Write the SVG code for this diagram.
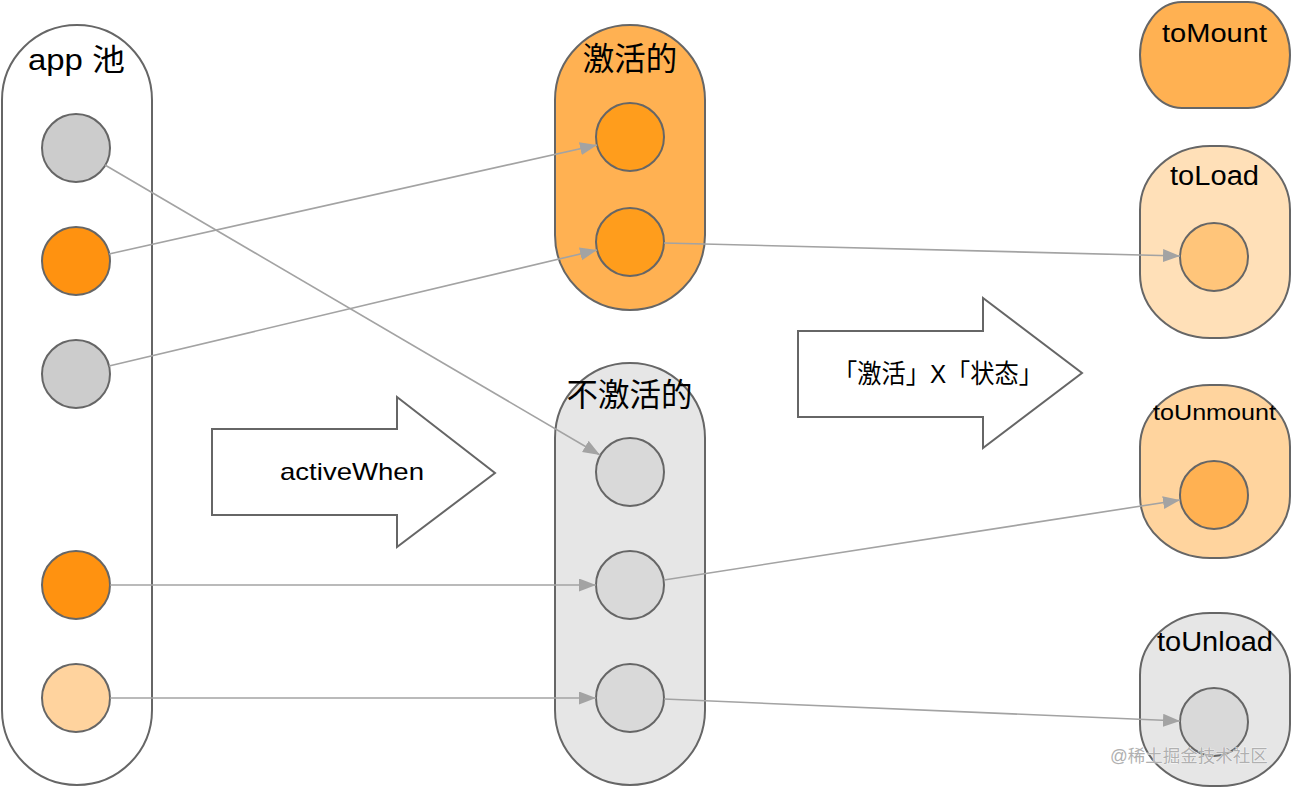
<svg xmlns="http://www.w3.org/2000/svg" width="1292" height="788" viewBox="0 0 1292 788">
<defs>
<style>
text{font-family:"Liberation Sans","Noto Sans CJK SC",sans-serif;fill:#000;text-anchor:middle}
.box{stroke:#666;stroke-width:2}
.c{stroke:#666;stroke-width:2}
.link{stroke:#A3A3A3;stroke-width:1.6;fill:none;marker-end:url(#ah)}
.big{fill:#fff;stroke:#666;stroke-width:2}
</style>
<marker id="ah" markerUnits="userSpaceOnUse" markerWidth="18" markerHeight="14" refX="17" refY="6.5" orient="auto">
<path d="M0,0 L17,6.5 L0,13 Z" fill="#A3A3A3"/>
</marker>
</defs>
<rect width="1292" height="788" fill="#fff"/>

<g id="app-pool">
<rect class="box" x="2" y="25" width="150" height="760" rx="75" ry="75" fill="#fff"/>
<text x="76.5" y="70" font-size="30" textLength="97" lengthAdjust="spacingAndGlyphs">app 池</text>
<circle class="c" cx="76" cy="148" r="34" fill="#CCCCCC"/>
<circle class="c" cx="76" cy="261" r="34" fill="#FF9210"/>
<circle class="c" cx="76" cy="374" r="34" fill="#CCCCCC"/>
<circle class="c" cx="76" cy="585" r="34" fill="#FF9210"/>
<circle class="c" cx="76" cy="698" r="34" fill="#FFD39E"/>
</g>

<g id="active">
<rect class="box" x="555" y="25" width="150" height="285" rx="75" ry="75" fill="#FFB152"/>
<text x="630" y="70" font-size="31.5">激活的</text>
<circle class="c" cx="630" cy="137" r="34" fill="#FF9D1C"/>
<circle class="c" cx="630" cy="242" r="34" fill="#FF9D1C"/>
</g>

<g id="inactive">
<rect class="box" x="555" y="363" width="150" height="422" rx="75" ry="75" fill="#E6E6E6"/>
<text x="629.5" y="406" font-size="31.5">不激活的</text>
<circle class="c" cx="630" cy="472" r="34" fill="#D9D9D9"/>
<circle class="c" cx="630" cy="585" r="34" fill="#D9D9D9"/>
<circle class="c" cx="630" cy="698" r="34" fill="#D9D9D9"/>
</g>

<g id="activeWhen">
<path class="big" d="M212,429 L397,429 L397,397 L495,473 L397,547 L397,515 L212,515 Z"/>
<text x="352" y="480" font-size="24" textLength="144" lengthAdjust="spacingAndGlyphs">activeWhen</text>
</g>

<g id="state-arrow">
<path class="big" d="M798,331 L983,331 L983,298 L1082,373 L983,448 L983,417 L798,417 Z"/>
<text x="938" y="383" font-size="26" textLength="210" lengthAdjust="spacingAndGlyphs">「激活」X「状态」</text>
</g>

<g id="toMount">
<rect class="box" x="1140" y="2" width="150" height="106" rx="42" ry="53" fill="#FFB152"/>
<text x="1214.5" y="42" font-size="25" textLength="105" lengthAdjust="spacingAndGlyphs">toMount</text>
</g>

<g id="toLoad">
<rect class="box" x="1140" y="146" width="150" height="192" rx="70" ry="64" fill="#FFE0B8"/>
<text x="1214.5" y="185" font-size="27" textLength="89" lengthAdjust="spacingAndGlyphs">toLoad</text>
<circle class="c" cx="1214" cy="257" r="34" fill="#FFC57A"/>
</g>

<g id="toUnmount">
<rect class="box" x="1140" y="385" width="150" height="173" rx="70" ry="62" fill="#FFD49E"/>
<text x="1214.5" y="420" font-size="22" textLength="123" lengthAdjust="spacingAndGlyphs">toUnmount</text>
<circle class="c" cx="1214" cy="495" r="34" fill="#FFB152"/>
</g>

<g id="toUnload">
<rect class="box" x="1140" y="613" width="150" height="173" rx="70" ry="62" fill="#E6E6E6"/>
<text x="1215" y="651" font-size="27" textLength="116" lengthAdjust="spacingAndGlyphs">toUnload</text>
<circle class="c" cx="1214" cy="722" r="34" fill="#D9D9D9"/>
</g>

<g id="connectors">
<line class="link" x1="105" y1="165" x2="600" y2="455"/>
<line class="link" x1="109" y1="254" x2="597" y2="145"/>
<line class="link" x1="109" y1="366" x2="597" y2="250"/>
<line class="link" x1="664" y1="243" x2="1180" y2="256"/>
<line class="link" x1="110" y1="585" x2="596" y2="585"/>
<line class="link" x1="110" y1="698" x2="596" y2="698"/>
<line class="link" x1="664" y1="580" x2="1180" y2="500"/>
<line class="link" x1="664" y1="699" x2="1180" y2="721"/>
</g>

<text x="1189" y="762" font-size="17.5" style="fill:#B0B0B0;stroke:#fff;stroke-width:0.6;paint-order:stroke">@稀土掘金技术社区</text>
</svg>
